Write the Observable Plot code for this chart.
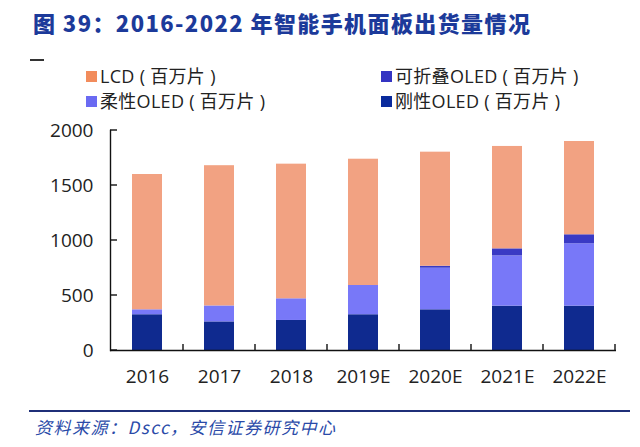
<!DOCTYPE html>
<html><head><meta charset="utf-8">
<script src="https://cdn.jsdelivr.net/npm/d3@7"></script>
<script src="https://cdn.jsdelivr.net/npm/@observablehq/plot@0.6"></script>
<style>
html,body{margin:0;padding:0;background:#fff;}
#wrap{position:relative;width:640px;height:447px;overflow:hidden;font-family:"Open Sans","Noto Sans CJK SC",sans-serif;color:#222;}
.title{position:absolute;left:33px;top:6px;font-family:"Noto Sans CJK SC","Noto Sans",sans-serif;font-weight:900;font-size:22px;color:#1c3a9a;white-space:nowrap;letter-spacing:1.4px;}
.dash{position:absolute;left:30px;top:59px;width:14px;height:2px;background:#333;}
.leg{position:absolute;display:flex;align-items:center;font-size:18px;white-space:nowrap;line-height:1;letter-spacing:0.3px;}
.sw{width:11px;height:11px;margin-right:3px;}
.rule{position:absolute;left:29px;top:410px;width:601px;height:2px;background:#1f2f78;}
.src{position:absolute;left:35px;top:414px;font-style:italic;font-size:17px;color:#2a4aa8;white-space:nowrap;letter-spacing:1.5px;font-family:"Noto Sans CJK SC","Open Sans",sans-serif;}
#chart{position:absolute;left:0;top:115px;}
</style></head>
<body><div id="wrap">
<div class="title">图 39：2016-2022 年智能手机面板出货量情况</div>
<div class="dash"></div>
<div id="legend"></div>
<div id="chart"></div>
<div class="rule"></div>
<div class="src">资料来源：Dscc，安信证券研究中心</div>
</div>
<script>
const years = ["2016","2017","2018","2019E","2020E","2021E","2022E"];
const seriesNames = ["刚性OLED（百万片）","柔性OLED（百万片）","可折叠OLED（百万片）","LCD（百万片）"];
const rigidOLED    = [325, 260, 273, 325, 370, 403, 403];
const flexibleOLED = [45, 145, 197, 266, 378, 457, 567];
const foldableOLED = [0, 0, 0, 0, 18, 64, 82];
const lcd          = [1230, 1275, 1224, 1148, 1037, 931, 848];
const yTicks = [0, 500, 1000, 1500, 2000];
const barColors = ["#0f2a8f", "#7878f8", "#3a3ac4", "#f2a282"];
const swatchColors = ["#0a2a9c", "#6a6af2", "#3434c2", "#f28c5c"];

const seriesValues = [rigidOLED, flexibleOLED, foldableOLED, lcd];
const data = [];
seriesNames.forEach((s, k) => years.forEach((yr, i) => data.push({year: yr, series: s, value: seriesValues[k][i]})));

// legend
const legendLayout = [
  {name: seriesNames[3], color: swatchColors[3], left: 86, top: 67},
  {name: seriesNames[2], color: swatchColors[2], left: 381, top: 67},
  {name: seriesNames[1], color: swatchColors[1], left: 86, top: 92},
  {name: seriesNames[0], color: swatchColors[0], left: 381, top: 92}
];
const legend = document.getElementById("legend");
legendLayout.forEach(d => {
  const el = document.createElement("div");
  el.className = "leg";
  el.style.left = d.left + "px";
  el.style.top = d.top + "px";
  const label = d.name.replace("（", " ( ").replace("）", " )");
  el.innerHTML = `<div class="sw" style="background:${d.color}"></div><span>${label}</span>`;
  legend.appendChild(el);
});

const plot = Plot.plot({
  width: 640,
  height: 280,
  marginTop: 15,
  marginBottom: 45,
  marginLeft: 110,
  marginRight: 24,
  style: {fontFamily: '"Open Sans","Noto Sans CJK SC",sans-serif', fontSize: "19px", color: "#222", background: "transparent"},
  x: {domain: years, paddingInner: 0.585, paddingOuter: 0.2925, label: null, tickSize: 0, tickPadding: 19},
  y: {domain: [0, 2000], ticks: yTicks, tickFormat: d => String(d), label: null, tickSize: 0, tickPadding: 17, line: true},
  color: {domain: seriesNames, range: barColors},
  marks: [
    Plot.barY(data, {x: "year", y: "value", fill: "series", order: seriesNames}),
    Plot.ruleY([0], {stroke: "#111", strokeWidth: 1.4})
  ]
});
document.getElementById("chart").appendChild(plot);

// inward ticks using the plot's own scales
const xs = plot.scale("x"), ys = plot.scale("y");
const svg = d3.select(plot.tagName === "svg" ? plot : plot.querySelector("svg"));
const y0 = ys.apply(0);
const gap = xs.step - xs.bandwidth;
const g = svg.append("g").attr("stroke", "#111").attr("stroke-width", 1.4);
years.forEach(yr => {
  const xb = xs.apply(yr) + xs.bandwidth + gap / 2;
  g.append("line").attr("x1", xb).attr("x2", xb).attr("y1", y0).attr("y2", y0 - 6);
});
const x0 = 110;
yTicks.forEach(t => {
  g.append("line").attr("x1", x0).attr("x2", x0 + 7).attr("y1", ys.apply(t)).attr("y2", ys.apply(t));
});
svg.selectAll("[aria-label='y-axis line'], [aria-label='frame']").attr("stroke", "#111").attr("stroke-width", 1.4);
</script>
</body></html>
